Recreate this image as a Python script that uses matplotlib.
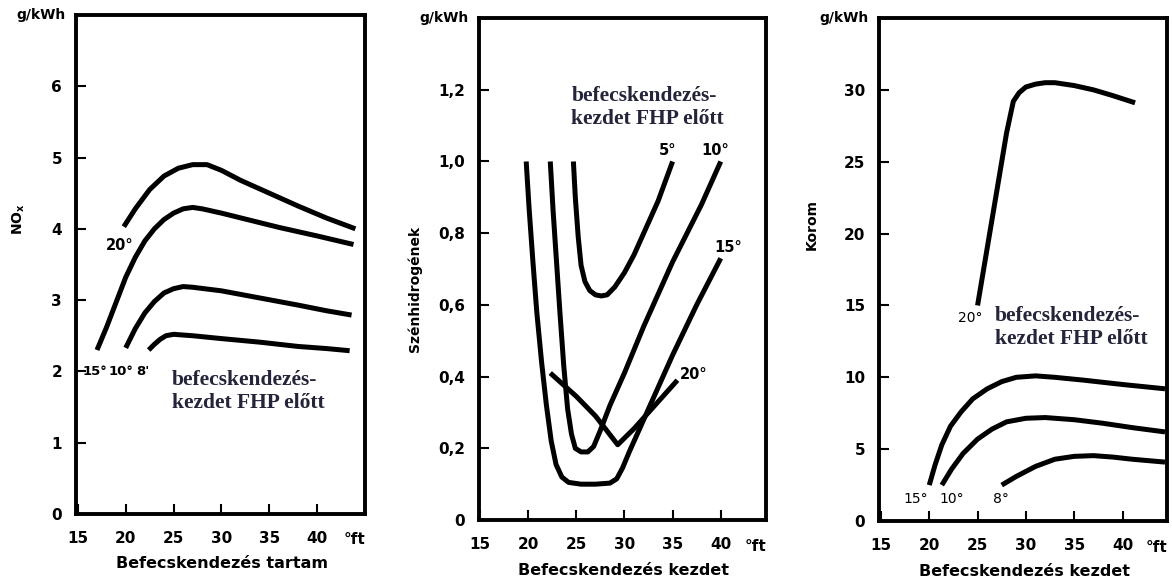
import matplotlib
matplotlib.use("Agg")
import matplotlib.pyplot as plt

plt.rcParams['font.family'] = ['DejaVu Sans']
plt.rcParams['font.weight'] = 'bold'
plt.rcParams['mathtext.default'] = 'bf'

# --- NOx (bal oldali diagram) ---
nox_20_x = [19.8, 21, 22.5, 24, 25.5, 27, 28.5, 30, 32, 35, 38, 41, 44]
nox_20_y = [4.03, 4.28, 4.55, 4.74, 4.85, 4.9, 4.9, 4.82, 4.68, 4.5, 4.32, 4.15, 4.0]
nox_15_x = [17.0, 18, 19, 20, 21, 22, 23, 24, 25, 26, 27, 28, 30, 33, 36, 40, 43.8]
nox_15_y = [2.3, 2.62, 2.97, 3.32, 3.6, 3.83, 4.0, 4.13, 4.22, 4.28, 4.3, 4.28, 4.22, 4.12, 4.02, 3.9, 3.78]
nox_10_x = [20.0, 21, 22, 23, 24, 25, 26, 27, 30, 34, 38, 41, 43.6]
nox_10_y = [2.33, 2.6, 2.82, 2.98, 3.1, 3.16, 3.19, 3.18, 3.13, 3.03, 2.93, 2.85, 2.79]
nox_8_x = [22.4, 23, 23.6, 24.2, 25, 27, 30, 34, 38, 41, 43.4]
nox_8_y = [2.3, 2.38, 2.45, 2.5, 2.52, 2.5, 2.46, 2.41, 2.35, 2.32, 2.29]

# --- Szénhidrogének (középső diagram) ---
hc_5_x = [24.7, 24.9, 25.2, 25.5, 25.9, 26.4, 27.0, 27.6, 28.2, 29.0, 30.0, 31.0, 32.0, 33.5, 35.0]
hc_5_y = [1.0, 0.9, 0.79, 0.71, 0.665, 0.64, 0.628, 0.625, 0.628, 0.65, 0.69, 0.74, 0.8, 0.89, 1.0]
hc_10_x = [22.3, 22.6, 22.9, 23.3, 23.7, 24.1, 24.5, 24.9, 25.5, 26.2, 26.8, 27.5, 28.5, 30, 32, 35, 38, 40]
hc_10_y = [1.0, 0.86, 0.74, 0.58, 0.43, 0.31, 0.24, 0.2, 0.19, 0.19, 0.205, 0.25, 0.32, 0.41, 0.54, 0.72, 0.88, 1.0]
hc_15_x = [19.8, 20.1, 20.5, 20.9, 21.4, 21.9, 22.4, 22.9, 23.5, 24.2, 25.5, 27, 28.5, 29.2, 29.8, 30.5, 31.5, 33, 35, 37.5, 40]
hc_15_y = [1.0, 0.87, 0.72, 0.58, 0.44, 0.32, 0.22, 0.155, 0.12, 0.105, 0.1, 0.1, 0.103, 0.115, 0.145, 0.19, 0.25, 0.34, 0.46, 0.6, 0.73]
hc_20_x = [22.3, 25, 27, 29.3, 31, 33, 35.5]
hc_20_y = [0.41, 0.345, 0.29, 0.21, 0.255, 0.315, 0.39]

# --- Korom (jobb oldali diagram) ---
kor_20_x = [25.0, 26, 27, 28, 28.7, 29.3, 30, 31, 32, 33, 35, 37, 39, 41.3]
kor_20_y = [15.0, 19.0, 23.0, 27.0, 29.2, 29.8, 30.2, 30.4, 30.5, 30.5, 30.3, 30.0, 29.6, 29.1]
kor_15_x = [20.0, 20.6, 21.3, 22.2, 23.3, 24.5, 26, 27.5, 29, 31, 33, 36, 40, 44.4]
kor_15_y = [2.5, 3.9, 5.3, 6.6, 7.6, 8.5, 9.2, 9.7, 10.0, 10.1, 10.0, 9.8, 9.5, 9.2]
kor_10_x = [21.3, 22.3, 23.5, 25, 26.5, 28, 30, 32, 35, 38, 41, 44.4]
kor_10_y = [2.5, 3.6, 4.7, 5.7, 6.4, 6.9, 7.15, 7.2, 7.05, 6.8, 6.5, 6.2]
kor_8_x = [27.5, 29, 31, 33, 35, 37, 39, 41, 44.4]
kor_8_y = [2.5, 3.1, 3.8, 4.3, 4.5, 4.55, 4.45, 4.3, 4.1]

x_ticks = [15, 20, 25, 30, 35, 40]
note = "befecskendezés-\nkezdet FHP előtt"
note_color = '#24243a'
serif = ['Liberation Serif', 'DejaVu Serif']

fig = plt.figure(figsize=(11.72, 5.83), dpi=100)
ax1 = fig.add_axes([0.0648, 0.1184, 0.2466, 0.856])
ax2 = fig.add_axes([0.4087, 0.1080, 0.2449, 0.861])
ax3 = fig.add_axes([0.7500, 0.1063, 0.2457, 0.8628])


def style(ax, xlim, ylim, yticks, ylabels, ylab, ylab_xy, xlab):
    ax.set_xlim(*xlim)
    ax.set_ylim(*ylim)
    for s in ax.spines.values():
        s.set_linewidth(2.8)
    ax.set_xticks(x_ticks)
    ax.set_yticks(yticks)
    ax.set_yticklabels(ylabels)
    ax.tick_params(direction='in', length=7, width=1.5, labelsize=11)
    ax.tick_params(axis='x', pad=12)
    ax.tick_params(axis='y', pad=10)
    ax.text(-0.035, 1.0, "g/kWh", transform=ax.transAxes, ha='right',
            va='center', fontsize=10, fontweight='bold')
    ax.text(0.965, -0.052, "°ft", transform=ax.transAxes, ha='center',
            va='center', fontsize=11, fontweight='bold')
    ax.set_ylabel(ylab, fontsize=10, fontweight='bold')
    ax.yaxis.set_label_coords(*ylab_xy)
    ax.set_xlabel(xlab, fontsize=11.5, fontweight='bold')
    ax.xaxis.set_label_coords(0.505, -0.085)


lw = 3.6
# NOx
for xs, ys in [(nox_20_x, nox_20_y), (nox_15_x, nox_15_y), (nox_10_x, nox_10_y), (nox_8_x, nox_8_y)]:
    ax1.plot(xs, ys, color='black', lw=lw, solid_capstyle='butt')
style(ax1, (14.8, 45.0), (0, 7), range(7), [str(i) for i in range(7)],
      r'NO$_x$', (-0.17, 0.59), "Befecskendezés tartam")
ax1.text(19.4, 3.76, "20°", fontsize=10.5, ha='center', va='center')
ax1.text(16.8, 2.0, "15°", fontsize=9.5, ha='center', va='center')
ax1.text(19.5, 2.0, "10°", fontsize=9.5, ha='center', va='center')
ax1.text(21.8, 2.0, "8'", fontsize=9.5, ha='center', va='center')
ax1.text(24.8, 1.72, note, fontsize=15.5, ha='left', va='center', color=note_color,
         family=serif, fontweight='bold', linespacing=1.2)

# Szénhidrogének
for xs, ys in [(hc_5_x, hc_5_y), (hc_10_x, hc_10_y), (hc_15_x, hc_15_y), (hc_20_x, hc_20_y)]:
    ax2.plot(xs, ys, color='black', lw=lw, solid_capstyle='butt')
hc_ticks = [0, 0.2, 0.4, 0.6, 0.8, 1.0, 1.2]
hc_labels = ['0', '0,2', '0,4', '0,6', '0,8', '1,0', '1,2']
style(ax2, (14.9, 44.7), (0, 1.4), hc_ticks, hc_labels,
      "Szénhidrogének", (-0.2, 0.46), "Befecskendezés kezdet")
ax2.text(34.5, 1.03, "5°", fontsize=10.5, ha='center', va='center')
ax2.text(39.4, 1.03, "10°", fontsize=10.5, ha='center', va='center')
ax2.text(40.8, 0.76, "15°", fontsize=10.5, ha='center', va='center')
ax2.text(37.2, 0.405, "20°", fontsize=10.5, ha='center', va='center')
ax2.text(24.5, 1.15, note, fontsize=15.5, ha='left', va='center', color=note_color,
         family=serif, fontweight='bold', linespacing=1.2)

# Korom
for xs, ys in [(kor_20_x, kor_20_y), (kor_15_x, kor_15_y), (kor_10_x, kor_10_y), (kor_8_x, kor_8_y)]:
    ax3.plot(xs, ys, color='black', lw=lw, solid_capstyle='butt')
style(ax3, (14.8, 44.6), (0, 35), [0, 5, 10, 15, 20, 25, 30],
      ['0', '5', '10', '15', '20', '25', '30'],
      "Korom", (-0.21, 0.59), "Befecskendezés kezdet")
ax3.text(24.2, 14.1, "20°", fontsize=10, fontweight='normal', ha='center', va='center')
ax3.text(18.6, 1.5, "15°", fontsize=10, fontweight='normal', ha='center', va='center')
ax3.text(22.3, 1.5, "10°", fontsize=10, fontweight='normal', ha='center', va='center')
ax3.text(27.4, 1.5, "8°", fontsize=10, fontweight='normal', ha='center', va='center')
ax3.text(26.8, 13.5, note, fontsize=15.5, ha='left', va='center', color=note_color,
         family=serif, fontweight='bold', linespacing=1.2)

fig.savefig("out.png", dpi=100)
